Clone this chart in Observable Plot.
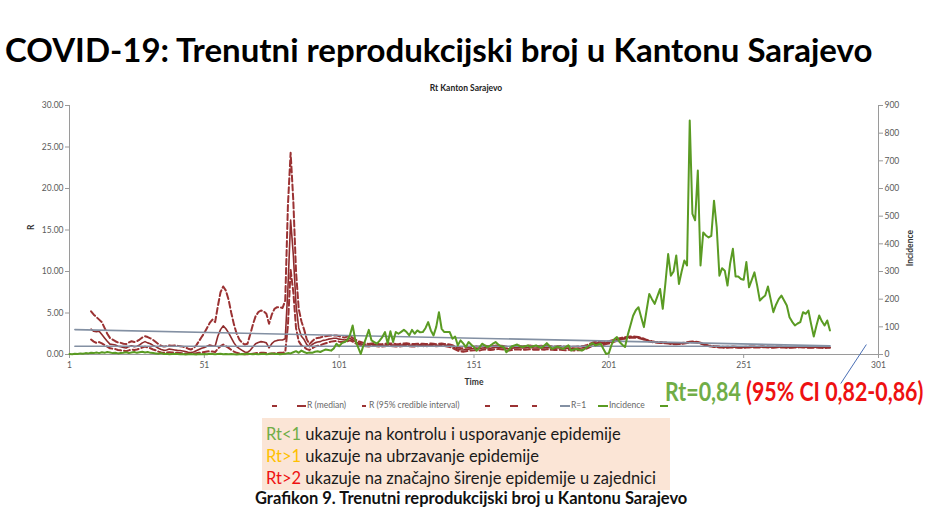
<!DOCTYPE html>
<html><head><meta charset="utf-8">
<script src="https://cdn.jsdelivr.net/npm/d3@7"></script>
<script src="https://cdn.jsdelivr.net/npm/@observablehq/plot@0.6"></script>
<style>
body{margin:0;background:#fff;font-family:Lato,"DejaVu Sans",sans-serif;}
#wrap{position:relative;width:938px;height:523px;overflow:hidden;background:#fff;}
.abs{position:absolute;white-space:nowrap;line-height:1;}
#title{left:5px;top:33px;font-size:33px;font-weight:700;color:#000;}
#sub{left:0;width:932px;text-align:center;top:84px;font-size:8.5px;font-weight:700;color:#222;}
.lg{position:absolute;top:400px;font-size:8.5px;color:#666;}
.sw{position:absolute;top:405px;height:0;border-top:2px solid #9b3233;}
#rt{left:665px;top:378px;font-size:26px;font-weight:700;transform-origin:0 0;}
#box{left:262px;top:418px;width:408px;height:72px;background:#fbe5d6;}
.bl{position:absolute;left:4px;font-size:16.5px;color:#1a1a1a;}
#cap{left:255px;top:490px;font-size:16.5px;font-weight:700;color:#111;}
</style></head><body><div id="wrap">
<div class="abs" id="title">COVID-19: Trenutni reprodukcijski broj u Kantonu Sarajevo</div>
<div class="abs" id="sub">Rt Kanton Sarajevo</div>
<div id="chart" class="abs" style="left:0;top:78px"></div>
<div class="sw" style="left:272px;width:5px;"></div>
<div class="sw" style="left:297px;width:9px;"></div><div class="lg" style="left:307px">R (median)</div>
<div class="sw" style="left:362px;width:4px;"></div><div class="lg" style="left:369px">R (95% credible interval)</div>
<div class="sw" style="left:485px;width:5px;"></div>
<div class="sw" style="left:510px;width:8px;"></div>
<div class="sw" style="left:532px;width:5px;"></div>
<div class="sw" style="left:560px;width:10px;border-color:#8390a3"></div><div class="lg" style="left:571px">R=1</div>
<div class="sw" style="left:598px;width:10px;border-color:#5a9b23"></div><div class="lg" style="left:609px">Incidence</div>
<div class="sw" style="left:660px;width:8px;border-color:#5a9b23"></div>
<div class="abs" id="rt"><span style="color:#70ad47">Rt=0,84</span> <span style="color:#ee1111">(95% CI 0,82-0,86)</span></div>
<div class="abs" id="box">
<div class="bl" style="top:8px"><span style="color:#70ad47">Rt&lt;1</span> ukazuje na kontrolu i usporavanje epidemije</div>
<div class="bl" style="top:30px"><span style="color:#ffc000">Rt&gt;1</span> ukazuje na ubrzavanje epidemije</div>
<div class="bl" style="top:52px"><span style="color:#ee1111">Rt&gt;2</span> ukazuje na značajno širenje epidemije u zajednici</div>
</div>
<div class="abs" id="cap">Grafikon 9. Trenutni reprodukcijski broj u Kantonu Sarajevo</div>
</div>
<script>
// ---- data ----
const xTicks = [1, 51, 101, 151, 201, 251, 301];
const rTicks = [0, 5, 10, 15, 20, 25, 30];
const incTicks = [0, 100, 200, 300, 400, 500, 600, 700, 800, 900];
const incMax = 900, rMax = 30;

// daily incidence, day 1..283
const incidence = [
 2,1,3,2,4,3,5,4,6,5,
 7,5,8,6,9,7,5,6,4,5,
 6,8,5,7,9,6,8,10,7,9,
 6,5,4,3,5,2,3,1,2,3,
 2,1,2,0,1,2,1,0,2,1,
 2,1,3,2,1,2,3,1,2,1,
 2,1,0,1,2,1,3,2,1,2,
 1,2,3,1,2,4,2,3,1,2,
 3,5,4,8,12,6,14,9,5,7,
 6,10,12,9,14,18,16,14,22,39,
 30,41,45,51,70,105,51,27,2,33,
 60,89,51,45,39,50,63,81,39,84,
 45,81,75,82,89,81,69,89,75,87,
 80,81,95,117,87,69,100,153,93,81,
 81,81,57,65,33,51,40,27,45,35,
 27,14,25,39,33,27,32,39,45,36,
 30,27,8,18,29,33,36,30,27,30,
 33,27,30,33,28,24,32,41,30,20,
 25,29,24,20,27,33,14,18,20,17,
 14,20,27,35,41,33,36,39,20,2,
 5,35,55,63,45,35,27,70,105,140,
 160,171,135,99,160,219,200,183,210,237,
 165,260,363,285,300,358,255,300,340,322,
 846,508,485,665,322,441,430,423,429,556,
 460,285,312,303,249,330,382,282,282,273,
 270,334,243,270,297,250,195,205,213,246,
 200,153,180,200,213,195,177,135,118,105,
 112,117,153,147,159,110,65,105,141,120,
 105,123,87
];

// R estimates start on day 9
const rStart = 9;
const rMedian = [
 3.05,2.8,
 2.75,2.8,2.4,2.0,1.6,1.25,1.2,1.15,1.0,0.95,
 0.85,0.78,0.95,1.05,0.95,1.0,1.15,1.4,1.55,1.4,
 1.3,1.1,0.95,0.75,0.6,0.5,0.55,0.65,0.6,0.55,
 0.5,0.48,0.42,0.36,0.28,0.25,0.3,0.45,0.6,0.75,
 0.85,1.0,1.15,1.05,1.0,2.2,3.0,3.45,3.1,2.6,
 2.0,1.4,0.95,0.7,0.5,0.3,0.25,0.5,0.9,1.3,
 1.45,1.55,1.5,1.4,0.8,1.3,1.6,1.7,1.75,1.75,
 1.9,8.0,16.2,12.0,6.0,3.2,2.2,1.8,1.2,0.95,
 1.2,1.4,1.5,1.55,1.7,1.75,1.85,1.9,1.95,1.95,
 1.85,1.8,1.75,1.85,1.95,1.75,1.55,1.4,1.3,1.2,
 1.15,1.12,1.18,1.2,1.15,1.1,1.12,1.15,1.2,1.18,
 1.15,1.12,1.1,1.15,1.18,1.2,1.15,1.1,1.12,1.15,
 1.18,1.15,1.12,1.15,1.2,1.18,1.12,1.15,1.2,1.15,
 1.1,1.05,0.95,0.8,0.65,0.58,0.55,0.6,0.65,0.7,
 0.72,0.75,0.7,0.78,0.82,0.8,0.75,0.8,0.85,0.88,
 0.85,0.8,0.72,0.7,0.75,0.8,0.85,0.82,0.78,0.8,
 0.82,0.85,0.8,0.78,0.8,0.82,0.8,0.85,0.82,0.78,
 0.75,0.78,0.8,0.75,0.72,0.78,0.75,0.7,0.72,0.75,
 0.78,0.85,0.95,1.1,1.25,1.35,1.4,1.35,1.3,1.4,
 1.45,1.55,1.65,1.75,1.85,1.95,2.0,2.05,2.1,2.1,
 2.08,2.05,1.95,1.85,1.72,1.62,1.55,1.5,1.46,1.45,
 1.42,1.4,1.36,1.32,1.3,1.28,1.3,1.33,1.38,1.44,
 1.5,1.52,1.5,1.46,1.38,1.25,1.12,1.05,1.0,0.96,
 0.93,0.9,0.88,0.86,0.87,0.88,0.9,0.88,0.86,0.85,
 0.86,0.88,0.9,0.92,0.9,0.88,0.9,0.93,0.92,0.9,
 0.88,0.87,0.9,0.92,0.9,0.88,0.86,0.85,0.87,0.88,
 0.9,0.92,0.9,0.88,0.86,0.85,0.87,0.88,0.86,0.85,0.84,0.85,0.84
];
const rUpper = [
 5.2,4.8,
 4.5,4.2,3.9,3.2,2.5,2.0,1.8,1.6,1.45,1.4,
 1.3,1.25,1.45,1.6,1.5,1.6,1.8,2.05,2.2,2.1,
 1.95,1.75,1.5,1.25,1.05,0.95,1.0,1.1,1.05,1.1,
 1.05,1.0,0.95,0.85,0.7,0.6,0.75,1.1,1.6,2.1,
 2.6,3.2,3.8,4.2,3.9,5.8,7.5,8.2,7.7,6.6,
 5.0,3.6,2.5,1.8,1.4,1.2,1.3,2.4,3.6,4.6,
 5.1,5.3,5.2,4.9,3.7,4.8,5.5,5.7,5.7,5.6,
 6.5,18.0,24.3,18.5,10.0,5.5,4.0,3.0,1.8,1.25,
 1.6,1.9,2.0,2.05,2.15,2.2,2.25,2.3,2.3,2.3,
 2.2,2.1,2.05,2.15,2.25,2.0,1.8,1.6,1.5,1.4,
 1.3,1.27,1.33,1.35,1.3,1.25,1.27,1.3,1.35,1.33,
 1.3,1.27,1.25,1.3,1.33,1.35,1.3,1.25,1.27,1.3,
 1.32,1.29,1.26,1.28,1.33,1.31,1.25,1.28,1.33,1.28,
 1.24,1.2,1.12,0.98,0.84,0.78,0.76,0.81,0.86,0.91,
 0.94,0.98,0.93,1.0,1.04,1.02,0.97,1.02,1.07,1.1,
 1.07,1.02,0.95,0.93,0.97,1.02,1.07,1.04,1.0,1.02,
 1.04,1.07,1.02,1.0,1.02,1.04,1.02,1.07,1.04,1.0,
 0.97,1.0,1.02,0.97,0.94,1.0,0.97,0.93,0.95,0.98,
 1.01,1.07,1.16,1.3,1.44,1.53,1.57,1.51,1.46,1.55,
 1.59,1.68,1.77,1.86,1.95,2.04,2.09,2.13,2.18,2.17,
 2.15,2.11,2.01,1.91,1.77,1.67,1.6,1.55,1.51,1.5,
 1.47,1.45,1.41,1.37,1.35,1.33,1.35,1.38,1.43,1.49,
 1.55,1.57,1.55,1.51,1.43,1.3,1.17,1.1,1.05,1.01,
 0.98,0.95,0.93,0.91,0.92,0.93,0.95,0.93,0.91,0.9,
 0.91,0.93,0.95,0.97,0.95,0.93,0.95,0.98,0.97,0.95,
 0.93,0.92,0.95,0.97,0.95,0.93,0.91,0.9,0.92,0.93,
 0.95,0.97,0.95,0.93,0.91,0.9,0.92,0.93,0.91,0.9,0.89,0.9,0.86
];
const rLower = [
 1.8,1.55,
 1.4,1.5,1.35,1.15,0.95,0.75,0.7,0.65,0.55,0.5,
 0.45,0.4,0.5,0.6,0.55,0.6,0.7,0.85,0.95,0.85,
 0.75,0.6,0.5,0.35,0.25,0.2,0.22,0.28,0.25,0.22,
 0.2,0.18,0.15,0.12,0.08,0.06,0.08,0.15,0.2,0.25,
 0.3,0.35,0.4,0.35,0.3,0.7,1.0,1.2,1.0,0.8,
 0.55,0.35,0.2,0.12,0.07,0.03,0.02,0.05,0.1,0.15,
 0.18,0.2,0.2,0.18,0.08,0.12,0.15,0.18,0.2,0.2,
 0.3,3.5,10.2,7.5,3.2,1.6,1.1,0.9,0.65,0.55,
 0.75,0.95,1.05,1.1,1.25,1.35,1.45,1.55,1.6,1.62,
 1.55,1.52,1.5,1.6,1.7,1.55,1.35,1.22,1.13,1.05,
 1.0,0.97,1.03,1.05,1.0,0.95,0.97,1.0,1.05,1.03,
 1.0,0.97,0.95,1.0,1.03,1.05,1.0,0.95,0.97,1.0,
 1.04,1.01,0.98,1.02,1.07,1.05,0.99,1.02,1.07,1.02,
 0.96,0.9,0.78,0.62,0.46,0.38,0.34,0.39,0.44,0.49,
 0.5,0.52,0.47,0.56,0.6,0.58,0.53,0.58,0.63,0.66,
 0.63,0.58,0.49,0.47,0.53,0.58,0.63,0.6,0.56,0.58,
 0.6,0.63,0.58,0.56,0.58,0.6,0.58,0.63,0.6,0.56,
 0.53,0.56,0.58,0.53,0.5,0.56,0.53,0.47,0.49,0.52,
 0.55,0.63,0.74,0.9,1.06,1.17,1.23,1.19,1.14,1.25,
 1.31,1.42,1.53,1.64,1.75,1.86,1.91,1.97,2.02,2.03,
 2.01,1.99,1.89,1.79,1.67,1.57,1.5,1.45,1.41,1.4,
 1.37,1.35,1.31,1.27,1.25,1.23,1.25,1.28,1.33,1.39,
 1.45,1.47,1.45,1.41,1.33,1.2,1.07,1.0,0.95,0.91,
 0.88,0.85,0.83,0.81,0.82,0.83,0.85,0.83,0.81,0.8,
 0.81,0.83,0.85,0.87,0.85,0.83,0.85,0.88,0.87,0.85,
 0.83,0.82,0.85,0.87,0.85,0.83,0.81,0.8,0.82,0.83,
 0.85,0.87,0.85,0.83,0.81,0.8,0.82,0.83,0.81,0.8,0.79,0.8,0.82
];
// reference line R=1 and the linear trend (endpoints)
const rOneDays = [3, 283];
const rOneValue = 1;
const trendDays = [3, 283];
const trendValues = [3.0, 1.05];
// pointer from the Rt annotation to the last estimate (day, R)
const pointer = {t1: 287, r1: -3.5, t2: 296.5, r2: 1.2};

// ---- chart ----
const red = "#9b3233", redDark = "#8f2c2d", green = "#5a9b23", grey = "#8390a3", axisCol = "#9a9a9a";
const toR = v => v * rMax / incMax;
const incRows = incidence.map((v, i) => ({t: i + 1, v: toR(v)}));
const rRows = rMedian.map((v, i) => ({t: i + rStart, med: v, lo: rLower[i], hi: rUpper[i]}));
const oneRows = rOneDays.map(t => ({t, r: rOneValue}));
const trendRows = trendDays.map((t, i) => ({t, r: trendValues[i]}));

const chart = Plot.plot({
  width: 938, height: 320,
  marginTop: 27, marginBottom: 44, marginLeft: 69, marginRight: 60,
  x: {domain: [1, 301]},
  y: {domain: [0, rMax]},
  style: {fontFamily: "Lato, sans-serif", fontSize: "8.5px", color: "#5a5a5a", background: "transparent"},
  marks: [
    Plot.ruleY([0], {stroke: axisCol}),
    Plot.ruleX([1], {stroke: axisCol}),
    Plot.ruleX([301], {stroke: axisCol}),
    Plot.axisX({ticks: xTicks, tickFormat: d => String(d), tickSize: 4, tickPadding: 3, stroke: axisCol, label: null}),
    Plot.axisY({ticks: rTicks, tickFormat: d3.format(".2f"), tickSize: 4, tickPadding: 2, stroke: axisCol, label: null}),
    Plot.axisY({anchor: "right", ticks: incTicks.map(toR), tickFormat: d => String(Math.round(d * incMax / rMax)), tickSize: 4, tickPadding: 2, stroke: axisCol, label: null}),
    Plot.text(["R"], {frameAnchor: "left", dx: -38, rotate: -90, text: d => d, fontWeight: "bold", fontSize: 8.5, fill: "#333"}),
    Plot.text(["Incidence"], {frameAnchor: "right", dx: 32, rotate: -90, text: d => d, fontWeight: "bold", fontSize: 8.5, fill: "#333"}),
    Plot.text(["Time"], {frameAnchor: "bottom", dy: 30, text: d => d, fontWeight: "bold", fontSize: 8.5, fill: "#333"}),
    Plot.line(rRows, {x: "t", y: "hi", stroke: red, strokeWidth: 2, strokeDasharray: "6,3"}),
    Plot.line(rRows, {x: "t", y: "lo", stroke: red, strokeWidth: 2, strokeDasharray: "6,3"}),
    Plot.line(rRows, {x: "t", y: "med", stroke: redDark, strokeWidth: 1.6}),
    Plot.line(oneRows, {x: "t", y: "r", stroke: grey, strokeWidth: 1.6}),
    Plot.line(trendRows, {x: "t", y: "r", stroke: grey, strokeWidth: 1.6}),
    Plot.line(incRows, {x: "t", y: "v", stroke: green, strokeWidth: 2}),
    Plot.link([pointer], {x1: "t1", y1: "r1", x2: "t2", y2: "r2", stroke: "#4a6fb5", strokeWidth: 1})
  ]
});
document.getElementById("chart").appendChild(chart);

// condense the Rt annotation horizontally to the reference's narrower face
const rt = document.getElementById("rt");
const rtW = rt.offsetWidth;
if (rtW > 0) rt.style.transform = `scaleX(${(258 / rtW).toFixed(3)})`;
</script>
</body></html>
